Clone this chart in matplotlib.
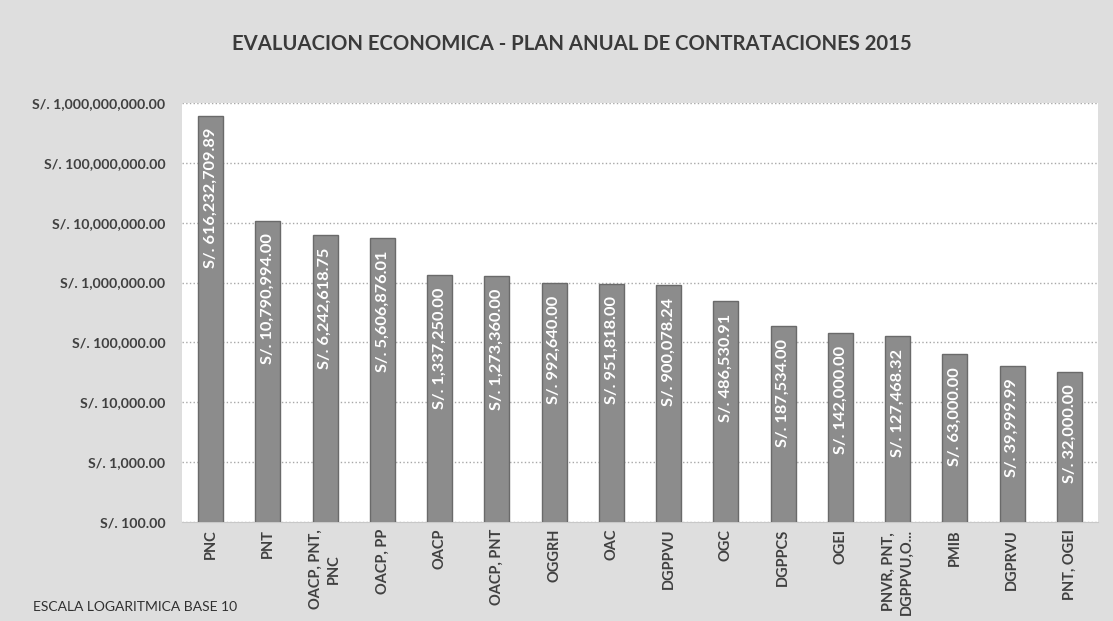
import matplotlib
matplotlib.use("Agg")
import matplotlib.pyplot as plt
import numpy as np
from matplotlib.ticker import FixedLocator, NullLocator

# Data
categories = ["PNC", "PNT", "OACP, PNT,\nPNC", "OACP, PP", "OACP", "OACP, PNT",
              "OGGRH", "OAC", "DGPPVU", "OGC", "DGPPCS", "OGEI",
              "PNVR, PNT,\nDGPPVU,O...", "PMIB", "DGPRVU", "PNT, OGEI"]
montos = [616232709.89, 10790994.00, 6242618.75, 5606876.01, 1337250.00,
          1273360.00, 992640.00, 951818.00, 900078.24, 486530.91,
          187534.00, 142000.00, 127468.32, 63000.00, 39999.99, 32000.00]
y_ticks = [1e2, 1e3, 1e4, 1e5, 1e6, 1e7, 1e8, 1e9]

title = "EVALUACION ECONOMICA - PLAN ANUAL DE CONTRATACIONES 2015"
note = "ESCALA LOGARITMICA BASE 10"

plt.rcParams['font.family'] = ['Lato', 'DejaVu Sans']

W, H = 1113, 621
fig = plt.figure(figsize=(W / 100, H / 100), dpi=100)
fig.patch.set_facecolor('#dedede')

ax = fig.add_axes([182 / W, 1 - 522 / H, (1098 - 182) / W, (522 - 103) / H])
ax.set_facecolor('white')

x = np.arange(len(categories))
ax.bar(x, montos, width=0.44, color='#8c8c8c', edgecolor='#6a6a6a',
       linewidth=1, zorder=3)

ax.set_yscale('log')
ax.set_ylim(1e2, 1e9)
ax.set_xlim(-0.5, len(categories) - 0.5)
ax.yaxis.set_major_locator(FixedLocator(y_ticks))
ax.yaxis.set_minor_locator(NullLocator())
ax.set_yticklabels([f"S/. {v:,.2f}" for v in y_ticks], fontsize=10.2,
                   fontweight='bold', color='#404040')
ax.set_xticks(x)
ax.set_xticklabels(categories, rotation=90, fontsize=10.5, fontweight='bold',
                   color='#404040', multialignment='center', linespacing=1.4)
ax.tick_params(axis='y', length=0, pad=12)
ax.tick_params(axis='x', length=0, pad=5)

ax.grid(axis='y', linestyle=':', color='#a8a8a8', linewidth=1, zorder=0)
for s in ['left', 'right', 'top']:
    ax.spines[s].set_visible(False)
ax.spines['bottom'].set_color('#c8c8c8')

# value labels inside the bars
for xi, v in zip(x, montos):
    ax.annotate(f"S/. {v:,.2f}", (xi, v), xytext=(0, -9),
                textcoords='offset points', rotation=90, ha='center',
                va='top', color='white', fontsize=11.8, fontweight='bold',
                zorder=4)

fig.text(572 / W, 1 - 44 / H, title, ha='center', va='center',
         fontsize=14.6, fontweight='bold', color='#3a3a3a')
fig.text(33 / W, 1 - 607 / H, note, ha='left', va='center',
         fontsize=10, color='#303030')

fig.savefig("out.png", dpi=100, facecolor=fig.get_facecolor())
